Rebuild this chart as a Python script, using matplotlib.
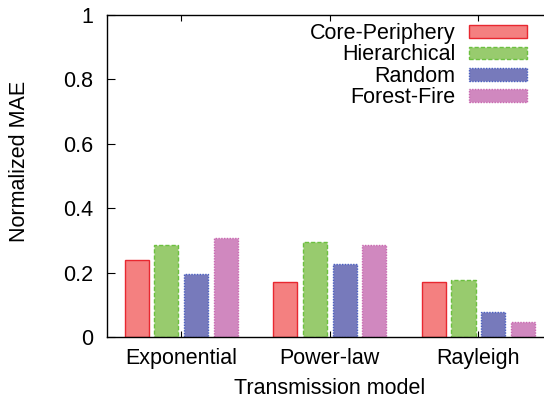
import matplotlib
matplotlib.use("Agg")
import matplotlib.pyplot as plt
import numpy as np

plt.rcParams['font.family'] = ['Liberation Sans', 'DejaVu Sans']

models = ["Exponential", "Power-law", "Rayleigh"]
series_names = ["Core-Periphery", "Hierarchical", "Random", "Forest-Fire"]
core_periphery = [0.239, 0.170, 0.170]
hierarchical = [0.285, 0.296, 0.176]
random_net = [0.195, 0.227, 0.077]
forest_fire = [0.308, 0.286, 0.047]
yticks = [0, 0.2, 0.4, 0.6, 0.8, 1]
ytick_labels = ["0", "0.2", "0.4", "0.6", "0.8", "1"]

values = [core_periphery, hierarchical, random_net, forest_fire]
fills = ["#f48080", "#98cb6e", "#777abb", "#d088bf"]
edges = ["#e82830", "#6cc040", "#4a5fc0", "#c868b0"]
styles = ["solid", (0, (3, 1.5)), (0, (1, 1)), (0, (1, 1))]

fs = 15.5
fig = plt.figure(figsize=(5.44, 4.01), dpi=100)
ax = fig.add_axes([107/544, 1-337/401, 445.6/544, 322/401])

x = np.arange(len(models))
offsets = [-0.3, -0.1, 0.1, 0.3]
width = 0.162
for vals, off, fc, ec, ls, name in zip(values, offsets, fills, edges, styles, series_names):
    ax.bar(x + off, vals, width, color=fc, edgecolor=ec, linestyle=ls, linewidth=1.0, label=name)

ax.set_xlim(-0.5, 2.5)
ax.set_ylim(0, 1)
ax.set_yticks(yticks)
ax.set_yticklabels(ytick_labels)
ax.set_xticks(x)
ax.set_xticklabels(models)
ax.tick_params(axis='y', direction='in', length=6, width=0.8, labelsize=fs, pad=10, right=True)
ax.tick_params(axis='x', direction='in', length=4, width=0.8, labelsize=fs, pad=8, top=True)
for s in ax.spines.values():
    s.set_linewidth(1.0)

fig.text(20/544, 1-161/401, "Normalized MAE", rotation=90, ha='center', va='center', fontsize=fs)
fig.text(330/544, 1-389/401, "Transmission model", ha='center', va='center', fontsize=fs)

leg = ax.legend(loc='upper right', bbox_to_anchor=(527/544, 1-23/401), bbox_transform=fig.transFigure,
                frameon=False, markerfirst=False, fontsize=fs, handlelength=2.7, handleheight=0.52,
                handletextpad=0.62, labelspacing=0.02, borderpad=0, borderaxespad=0)

fig.savefig("out.png", dpi=100)
